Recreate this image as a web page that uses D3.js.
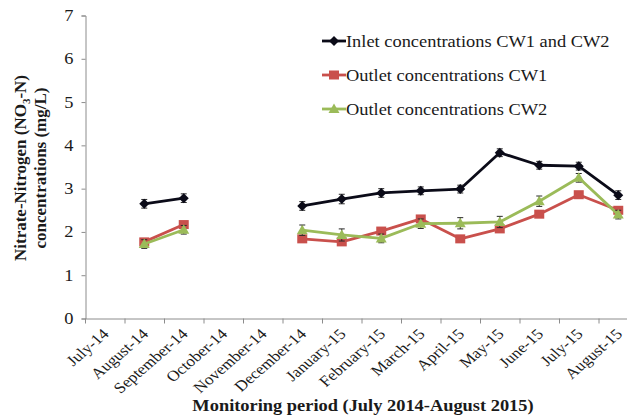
<!DOCTYPE html>
<html>
<head>
<meta charset="utf-8">
<script src="https://cdn.jsdelivr.net/npm/d3@7"></script>
<style>
  html, body { margin: 0; padding: 0; background: #fff; }
  svg { display: block; }
  svg text { font-family: "Liberation Serif", "Times New Roman", serif !important; fill: #1a1a1a; }
</style>
</head>
<body>
<svg id="chart" width="627" height="419"></svg>
<script>
// Monthly nitrate-nitrogen monitoring, July 2014 - August 2015
const categories = ["July-14", "August-14", "September-14", "October-14", "November-14",
  "December-14", "January-15", "February-15", "March-15", "April-15", "May-15",
  "June-15", "July-15", "August-15"];

const inlet     = [null, 2.65, 2.78, null, null, 2.60, 2.76, 2.90, 2.95, 2.99, 3.83, 3.54, 3.52, 2.85];
const inletErr  = [null, 0.10, 0.10, null, null, 0.10, 0.11, 0.10, 0.09, 0.09, 0.09, 0.09, 0.09, 0.10];
const outletCW1    = [null, 1.77, 2.17, null, null, 1.84, 1.77, 2.02, 2.30, 1.84, 2.07, 2.41, 2.86, 2.50];
const outletCW1Err = [null, 0.07, 0.07, null, null, 0.07, 0.07, 0.07, 0.07, 0.06, 0.06, 0.07, 0.07, 0.07];
const outletCW2    = [null, 1.72, 2.05, null, null, 2.04, 1.93, 1.85, 2.19, 2.20, 2.23, 2.71, 3.25, 2.40];
const outletCW2Err = [null, 0.10, 0.10, null, null, 0.12, 0.14, 0.10, 0.11, 0.13, 0.13, 0.12, 0.10, 0.10];

const yTicks = [0, 1, 2, 3, 4, 5, 6, 7];

const series = [
  { name: "Inlet concentrations CW1 and CW2", values: inlet, err: inletErr, color: "#0b0b18", marker: "diamond" },
  { name: "Outlet concentrations CW1", values: outletCW1, err: outletCW1Err, color: "#c9504c", marker: "square" },
  { name: "Outlet concentrations CW2", values: outletCW2, err: outletCW2Err, color: "#9bbb59", marker: "triangle" }
];

const svg = d3.select("#chart");
const SX = 1.15; // horizontal text stretch

const x = d3.scaleBand().domain(categories).range([85, 85 + 14 * 39.5]).padding(0);
const cx = c => x(c) + x.bandwidth() / 2;
const y = d3.scaleLinear().domain([0, 7]).range([318.5, 15.5]);

// Y axis
const yAxis = svg.append("g").attr("transform", "translate(85.5,0)")
  .call(d3.axisLeft(y).tickValues(yTicks).tickSize(4).tickFormat(d3.format("d")));
yAxis.attr("font-family", null);
yAxis.select(".domain").attr("stroke", "#8c8c8c");
yAxis.selectAll(".tick line").attr("stroke", "#8c8c8c");
yAxis.selectAll(".tick text").remove();
yAxis.selectAll(".tick").append("text")
  .attr("transform", `translate(-12,5) scale(${SX},1)`)
  .attr("text-anchor", "end")
  .style("font-size", "16px")
  .text(d => d);

// X axis line with tick marks between categories
const xAxis = svg.append("g").attr("transform", "translate(0,318.5)")
  .call(d3.axisBottom(x).tickSize(0).tickFormat(""));
xAxis.attr("font-family", null);
xAxis.select(".domain").attr("stroke", "#8c8c8c");
xAxis.selectAll(".tick").remove();
xAxis.selectAll("line.sep").data(categories).enter().append("line")
  .attr("class", "sep")
  .attr("x1", d => x(d) + 0.5).attr("x2", d => x(d) + 0.5)
  .attr("y1", 0).attr("y2", 5)
  .attr("stroke", "#8c8c8c");

// Rotated category labels
svg.append("g").selectAll("text").data(categories).enter().append("text")
  .attr("transform", d => `translate(${cx(d) + 5},${335}) scale(${SX},1) rotate(-45)`)
  .attr("text-anchor", "end")
  .style("font-size", "15px")
  .text(d => d);

// Axis titles
svg.append("text")
  .attr("transform", `translate(363,411) scale(${SX},1)`)
  .attr("text-anchor", "middle")
  .style("font-size", "16px").style("font-weight", "bold")
  .text("Monitoring period (July 2014-August 2015)");

const yTitle = svg.append("text")
  .attr("transform", "translate(0,168) rotate(-90)")
  .attr("text-anchor", "middle")
  .style("font-size", "17px").style("font-weight", "bold");
const l1 = yTitle.append("tspan").attr("x", 0).attr("y", 26);
l1.append("tspan").text("Nitrate-Nitrogen (NO");
l1.append("tspan").attr("dy", 4).style("font-size", "11px").text("3");
l1.append("tspan").attr("dy", -4).text("-N)");
yTitle.append("tspan").attr("x", 0).attr("y", 46).text("concentrations (mg/L)");

// Marker drawing
function drawMarker(g, type, color) {
  if (type === "diamond") {
    g.append("path").attr("d", "M0,-5L5,0L0,5L-5,0Z").attr("fill", color);
  } else if (type === "square") {
    g.append("rect").attr("x", -5).attr("y", -4.5).attr("width", 10).attr("height", 9).attr("fill", color);
  } else {
    g.append("path").attr("d", "M0,-5.5L5.5,4L-5.5,4Z").attr("fill", color);
  }
}

const line = d3.line()
  .defined(d => d.v != null)
  .x(d => cx(d.c))
  .y(d => y(d.v));

series.forEach(s => {
  const pts = categories.map((c, i) => ({ c, v: s.values[i], e: s.err[i] }));
  const g = svg.append("g");
  g.append("path").datum(pts)
    .attr("d", line)
    .attr("fill", "none")
    .attr("stroke", s.color)
    .attr("stroke-width", 2.8)
    .attr("stroke-linejoin", "round");
  const valid = pts.filter(d => d.v != null);
  // error bars
  const eb = g.selectAll("g.eb").data(valid).enter().append("g").attr("class", "eb");
  eb.append("line")
    .attr("x1", d => cx(d.c)).attr("x2", d => cx(d.c))
    .attr("y1", d => y(d.v + d.e)).attr("y2", d => y(d.v - d.e))
    .attr("stroke", "#2a2a2a").attr("stroke-width", 1);
  [1, -1].forEach(sign => {
    eb.append("line")
      .attr("x1", d => cx(d.c) - 3).attr("x2", d => cx(d.c) + 3)
      .attr("y1", d => y(d.v + sign * d.e)).attr("y2", d => y(d.v + sign * d.e))
      .attr("stroke", "#2a2a2a").attr("stroke-width", 1);
  });
  valid.forEach(d => {
    const m = g.append("g").attr("transform", `translate(${cx(d.c)},${y(d.v)})`);
    drawMarker(m, s.marker, s.color);
  });
});

// Legend
const legendY = [41, 75, 109];
series.forEach((s, i) => {
  const lg = svg.append("g").attr("transform", `translate(322,${legendY[i]})`);
  lg.append("line").attr("x1", 0).attr("x2", 24).attr("y1", 0).attr("y2", 0)
    .attr("stroke", s.color).attr("stroke-width", 2.8);
  const m = lg.append("g").attr("transform", "translate(12,0)");
  drawMarker(m, s.marker, s.color);
  lg.append("text")
    .attr("transform", `translate(24,5.5) scale(${SX},1)`)
    .style("font-size", "16px")
    .text(s.name);
});
</script>
</body>
</html>
